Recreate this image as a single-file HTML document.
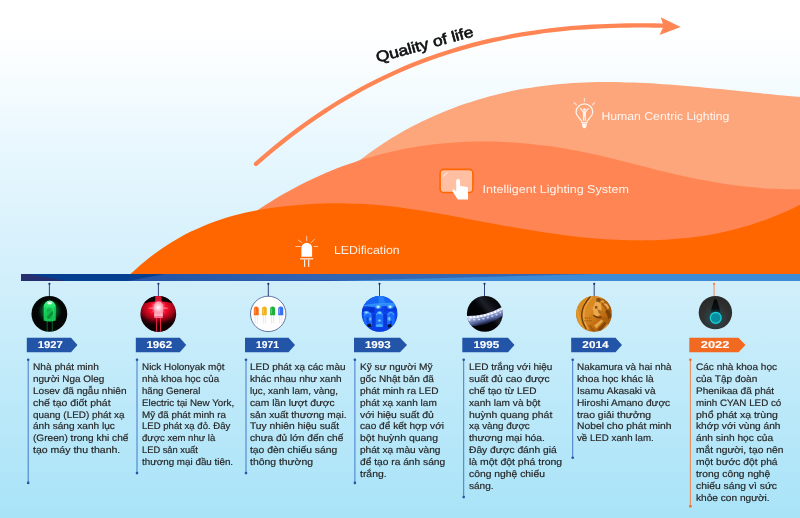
<!DOCTYPE html>
<html><head><meta charset="utf-8"><title>LED timeline</title>
<style>
html,body{margin:0;padding:0}
body{width:800px;height:518px;overflow:hidden;position:relative;font-family:"Liberation Sans",sans-serif;
background:linear-gradient(to bottom,#FFFFFF 0px,#FFFFFF 30px,#F6FCFE 80px,#E8F7FE 148px,#D1EFFB 280px,#A9E3F8 518px);}
svg{position:absolute;left:0;top:0;will-change:transform}
.tx{position:absolute;top:361.2px;will-change:transform;text-rendering:geometricPrecision;-webkit-text-stroke:0.18px #262626;font-size:9.4px;line-height:11.89px;color:#262626;white-space:nowrap}
.tx span{display:block;transform-origin:0 50%;height:11.89px}
</style></head><body>
<svg width="800" height="518" viewBox="0 0 800 518">
<path d="M345.00,171.87 C347.00,170.25 353.00,165.26 357.00,162.14 C361.00,159.02 365.00,156.03 369.00,153.16 C373.00,150.28 377.00,147.54 381.00,144.89 C385.00,142.25 389.00,139.72 393.00,137.30 C397.00,134.87 401.00,132.56 405.00,130.34 C409.00,128.12 413.00,126.01 417.00,123.98 C421.00,121.95 425.00,120.02 429.00,118.18 C433.00,116.33 437.00,114.58 441.00,112.91 C445.00,111.23 449.00,109.65 453.00,108.13 C457.00,106.62 461.00,105.18 465.00,103.82 C469.00,102.46 473.00,101.17 477.00,99.95 C481.00,98.74 485.00,97.59 489.00,96.51 C493.00,95.44 497.00,94.43 501.00,93.49 C505.00,92.54 509.00,91.67 513.00,90.85 C517.00,90.04 521.00,89.29 525.00,88.60 C529.00,87.91 533.00,87.28 537.00,86.71 C541.00,86.14 545.00,85.63 549.00,85.17 C553.00,84.71 557.00,84.31 561.00,83.96 C565.00,83.61 569.00,83.32 573.00,83.06 C577.00,82.81 581.00,82.61 585.00,82.45 C589.00,82.29 593.00,82.18 597.00,82.11 C601.00,82.04 605.00,82.01 609.00,82.01 C613.00,82.02 617.00,82.07 621.00,82.14 C625.00,82.22 629.00,82.34 633.00,82.48 C637.00,82.62 641.00,82.80 645.00,83.00 C649.00,83.20 653.00,83.43 657.00,83.68 C661.00,83.93 665.00,84.21 669.00,84.51 C673.00,84.80 677.00,85.12 681.00,85.45 C685.00,85.79 689.00,86.14 693.00,86.50 C697.00,86.86 701.00,87.24 705.00,87.63 C709.00,88.01 713.00,88.41 717.00,88.81 C721.00,89.21 725.00,89.62 729.00,90.04 C733.00,90.45 737.00,90.86 741.00,91.27 C745.00,91.69 749.00,92.10 753.00,92.51 C757.00,92.92 761.00,93.32 765.00,93.72 C769.00,94.11 773.00,94.50 777.00,94.88 C781.00,95.26 785.17,95.64 789.00,95.98 C792.83,96.31 798.17,96.75 800.00,96.91 L800.00,278 L345.00,278 Z" fill="#FDA67B"/>
<path d="M235.00,226.53 C237.00,225.05 243.00,220.48 247.00,217.60 C251.00,214.72 255.00,211.95 259.00,209.27 C263.00,206.58 267.00,204.00 271.00,201.51 C275.00,199.02 279.00,196.62 283.00,194.31 C287.00,192.00 291.00,189.79 295.00,187.66 C299.00,185.53 303.00,183.49 307.00,181.53 C311.00,179.57 315.00,177.70 319.00,175.90 C323.00,174.11 327.00,172.40 331.00,170.77 C335.00,169.13 339.00,167.58 343.00,166.10 C347.00,164.62 351.00,163.22 355.00,161.89 C359.00,160.55 363.00,159.30 367.00,158.11 C371.00,156.91 375.00,155.79 379.00,154.74 C383.00,153.68 387.00,152.70 391.00,151.78 C395.00,150.85 399.00,150.00 403.00,149.20 C407.00,148.41 411.00,147.68 415.00,147.01 C419.00,146.35 423.00,145.74 427.00,145.20 C431.00,144.66 435.00,144.18 439.00,143.75 C443.00,143.33 447.00,142.97 451.00,142.67 C455.00,142.36 459.00,142.12 463.00,141.93 C467.00,141.74 471.00,141.61 475.00,141.53 C479.00,141.46 483.00,141.44 487.00,141.47 C491.00,141.50 495.00,141.59 499.00,141.73 C503.00,141.87 507.00,142.07 511.00,142.31 C515.00,142.56 519.00,142.85 523.00,143.20 C527.00,143.55 531.00,143.94 535.00,144.39 C539.00,144.83 543.00,145.33 547.00,145.86 C551.00,146.40 555.00,146.99 559.00,147.62 C563.00,148.25 567.00,148.93 571.00,149.64 C575.00,150.36 579.00,151.13 583.00,151.93 C587.00,152.73 591.00,153.58 595.00,154.46 C599.00,155.35 603.00,156.28 607.00,157.23 C611.00,158.19 615.00,159.19 619.00,160.19 C623.00,161.20 627.00,162.23 631.00,163.26 C635.00,164.29 639.00,165.34 643.00,166.37 C647.00,167.40 651.00,168.43 655.00,169.43 C659.00,170.43 663.00,171.41 667.00,172.37 C671.00,173.32 675.00,174.24 679.00,175.13 C683.00,176.03 687.00,176.89 691.00,177.72 C695.00,178.54 699.00,179.33 703.00,180.09 C707.00,180.84 711.00,181.56 715.00,182.23 C719.00,182.91 723.00,183.54 727.00,184.13 C731.00,184.72 735.00,185.27 739.00,185.76 C743.00,186.26 747.00,186.71 751.00,187.11 C755.00,187.50 759.00,187.85 763.00,188.15 C767.00,188.44 771.00,188.68 775.00,188.86 C779.00,189.04 783.00,189.17 787.00,189.23 C791.00,189.30 796.83,189.24 799.00,189.24 C801.17,189.24 799.83,189.23 800.00,189.23 L800.00,278 L235.00,278 Z" fill="#FF8654"/>
<path d="M130.90,273.51 C132.90,271.75 138.90,266.26 142.90,262.93 C146.90,259.60 150.90,256.48 154.90,253.53 C158.90,250.58 162.90,247.83 166.90,245.23 C170.90,242.63 174.90,240.22 178.90,237.95 C182.90,235.68 186.90,233.58 190.90,231.62 C194.90,229.65 198.90,227.85 202.90,226.16 C206.90,224.47 210.90,222.93 214.90,221.50 C218.90,220.07 222.90,218.77 226.90,217.56 C230.90,216.36 234.90,215.27 238.90,214.27 C242.90,213.26 246.90,212.37 250.90,211.54 C254.90,210.72 258.90,209.99 262.90,209.32 C266.90,208.64 270.90,208.05 274.90,207.51 C278.90,206.96 282.90,206.48 286.90,206.04 C290.90,205.61 294.90,205.22 298.90,204.89 C302.90,204.56 306.90,204.28 310.90,204.05 C314.90,203.82 318.90,203.65 322.90,203.52 C326.90,203.40 330.90,203.32 334.90,203.30 C338.90,203.28 342.90,203.31 346.90,203.39 C350.90,203.47 354.90,203.61 358.90,203.79 C362.90,203.98 366.90,204.21 370.90,204.50 C374.90,204.79 378.90,205.13 382.90,205.52 C386.90,205.90 390.90,206.35 394.90,206.83 C398.90,207.31 402.90,207.84 406.90,208.40 C410.90,208.95 414.90,209.56 418.90,210.18 C422.90,210.81 426.90,211.47 430.90,212.15 C434.90,212.82 438.90,213.53 442.90,214.25 C446.90,214.97 450.90,215.71 454.90,216.45 C458.90,217.19 462.90,217.95 466.90,218.71 C470.90,219.46 474.90,220.22 478.90,220.98 C482.90,221.73 486.90,222.49 490.90,223.23 C494.90,223.98 498.90,224.71 502.90,225.44 C506.90,226.16 510.90,226.88 514.90,227.58 C518.90,228.27 522.90,228.96 526.90,229.62 C530.90,230.28 534.90,230.93 538.90,231.55 C542.90,232.18 546.90,232.78 550.90,233.35 C554.90,233.92 558.90,234.47 562.90,234.99 C566.90,235.51 570.90,236.00 574.90,236.45 C578.90,236.90 582.90,237.33 586.90,237.71 C590.90,238.09 594.90,238.44 598.90,238.74 C602.90,239.05 606.90,239.32 610.90,239.54 C614.90,239.77 618.90,239.95 622.90,240.09 C626.90,240.22 630.90,240.31 634.90,240.35 C638.90,240.39 642.90,240.39 646.90,240.33 C650.90,240.27 654.90,240.16 658.90,239.99 C662.90,239.82 666.90,239.60 670.90,239.32 C674.90,239.04 678.90,238.71 682.90,238.31 C686.90,237.91 690.90,237.45 694.90,236.92 C698.90,236.39 702.90,235.80 706.90,235.14 C710.90,234.47 714.90,233.74 718.90,232.93 C722.90,232.11 726.90,231.23 730.90,230.26 C734.90,229.30 738.90,228.25 742.90,227.12 C746.90,225.99 750.90,224.78 754.90,223.47 C758.90,222.17 762.90,220.78 766.90,219.29 C770.90,217.81 774.90,216.23 778.90,214.55 C782.90,212.88 787.38,210.86 790.90,209.23 C794.42,207.60 798.48,205.52 800.00,204.78 L800.00,278 L130.90,278 Z" fill="#FF6600"/>
<path d="M256.00,163.83 C258.33,161.82 265.33,155.69 270.00,151.79 C274.67,147.90 279.33,144.12 284.00,140.45 C288.67,136.77 293.33,133.22 298.00,129.76 C302.67,126.31 307.33,122.97 312.00,119.73 C316.67,116.49 321.33,113.36 326.00,110.33 C330.67,107.29 335.33,104.37 340.00,101.53 C344.67,98.70 349.33,95.97 354.00,93.33 C358.67,90.70 363.33,88.16 368.00,85.71 C372.67,83.26 377.33,80.91 382.00,78.64 C386.67,76.37 391.33,74.20 396.00,72.11 C400.67,70.02 405.33,68.01 410.00,66.09 C414.67,64.17 419.33,62.34 424.00,60.58 C428.67,58.82 433.33,57.15 438.00,55.55 C442.67,53.95 447.33,52.43 452.00,50.98 C456.67,49.54 461.33,48.17 466.00,46.86 C470.67,45.56 475.33,44.33 480.00,43.17 C484.67,42.01 489.33,40.91 494.00,39.88 C498.67,38.85 503.33,37.89 508.00,36.99 C512.67,36.08 517.33,35.25 522.00,34.46 C526.67,33.68 531.33,32.96 536.00,32.29 C540.67,31.63 545.33,31.02 550.00,30.46 C554.67,29.90 559.33,29.39 564.00,28.94 C568.67,28.48 573.33,28.08 578.00,27.72 C582.67,27.36 587.33,27.04 592.00,26.77 C596.67,26.50 601.33,26.28 606.00,26.09 C610.67,25.91 615.33,25.76 620.00,25.66 C624.67,25.55 629.33,25.48 634.00,25.44 C638.67,25.40 643.33,25.41 648.00,25.43 C652.67,25.46 659.33,25.58 662.00,25.61 C664.67,25.65 663.67,25.65 664.00,25.65" fill="none" stroke="#FF8654" stroke-width="4.3" stroke-linecap="round"/>
<path d="M680.7,27.1 L660.8,17.3 L663.6,26 L659.6,34.9 Z" fill="#FF8654"/>
<rect x="21" y="274" width="779" height="7" fill="#04408F"/>
<path d="M21,274 L29,274 L67,281 L21,281 Z" fill="#252F70"/>
<defs><linearGradient id="barg" x1="140" y1="0" x2="360" y2="0" gradientUnits="userSpaceOnUse"><stop offset="0" stop-color="#2254A7"/><stop offset="1" stop-color="#3467B3"/></linearGradient></defs>
<path d="M128,281 L165,274 L800,274 L800,281 Z" fill="url(#barg)"/>
<path d="M200,281 L360,281 L360,280.2 Z" fill="#2450A8"/>
<path d="M330,281 L595,274 L800,274 L800,281 Z" fill="#3C8BD4"/>
<line x1="49.40" y1="284" x2="49.40" y2="297" stroke="#1F2E6B" stroke-width="0.9"/>
<circle cx="49.40" cy="283.8" r="1.1" fill="#1F2E6B"/>
<path d="M26.80,337.75 L71.00,337.75 L77.50,345.05 L71.00,352.35 L26.80,352.35 Z" fill="#2255A8"/>
<line x1="28.20" y1="359.8" x2="28.20" y2="482.90" stroke="#356EC2" stroke-width="0.9"/>
<circle cx="28.20" cy="359.8" r="1.3" fill="#2255A8"/>
<circle cx="28.20" cy="482.90" r="1.3" fill="#2255A8"/>
<text transform="translate(37.75,348.05) scale(1.1255,1.0)" text-rendering="geometricPrecision" font-family="Liberation Sans" font-weight="bold" font-size="10" fill="#fff" stroke="#fff" stroke-width=".12">1927</text>
<line x1="158.40" y1="284" x2="158.40" y2="297" stroke="#1F2E6B" stroke-width="0.9"/>
<circle cx="158.40" cy="283.8" r="1.1" fill="#1F2E6B"/>
<path d="M135.80,337.75 L179.80,337.75 L186.20,345.05 L179.80,352.35 L135.80,352.35 Z" fill="#2255A8"/>
<line x1="137.00" y1="359.8" x2="137.00" y2="473.10" stroke="#356EC2" stroke-width="0.9"/>
<circle cx="137.00" cy="359.8" r="1.3" fill="#2255A8"/>
<circle cx="137.00" cy="473.10" r="1.3" fill="#2255A8"/>
<text transform="translate(146.40,348.05) scale(1.1539,1.0)" text-rendering="geometricPrecision" font-family="Liberation Sans" font-weight="bold" font-size="10" fill="#fff" stroke="#fff" stroke-width=".12">1962</text>
<line x1="268.30" y1="284" x2="268.30" y2="297" stroke="#1F2E6B" stroke-width="0.9"/>
<circle cx="268.30" cy="283.8" r="1.1" fill="#1F2E6B"/>
<path d="M245.00,337.75 L288.50,337.75 L295.00,345.05 L288.50,352.35 L245.00,352.35 Z" fill="#2255A8"/>
<line x1="246.00" y1="359.8" x2="246.00" y2="473.10" stroke="#356EC2" stroke-width="0.9"/>
<circle cx="246.00" cy="359.8" r="1.3" fill="#2255A8"/>
<circle cx="246.00" cy="473.10" r="1.3" fill="#2255A8"/>
<text transform="translate(256.10,348.05) scale(1.0265,1.0)" text-rendering="geometricPrecision" font-family="Liberation Sans" font-weight="bold" font-size="10" fill="#fff" stroke="#fff" stroke-width=".12">1971</text>
<line x1="379.50" y1="284" x2="379.50" y2="297" stroke="#1F2E6B" stroke-width="0.9"/>
<circle cx="379.50" cy="283.8" r="1.1" fill="#1F2E6B"/>
<path d="M354.00,337.75 L400.00,337.75 L407.00,345.05 L400.00,352.35 L354.00,352.35 Z" fill="#2255A8"/>
<line x1="354.90" y1="359.8" x2="354.90" y2="482.90" stroke="#356EC2" stroke-width="0.9"/>
<circle cx="354.90" cy="359.8" r="1.3" fill="#2255A8"/>
<circle cx="354.90" cy="482.90" r="1.3" fill="#2255A8"/>
<text transform="translate(364.90,348.05) scale(1.1574,1.0)" text-rendering="geometricPrecision" font-family="Liberation Sans" font-weight="bold" font-size="10" fill="#fff" stroke="#fff" stroke-width=".12">1993</text>
<line x1="484.50" y1="284" x2="484.50" y2="297" stroke="#1F2E6B" stroke-width="0.9"/>
<circle cx="484.50" cy="283.8" r="1.1" fill="#1F2E6B"/>
<path d="M462.30,337.75 L508.00,337.75 L514.50,345.05 L508.00,352.35 L462.30,352.35 Z" fill="#2255A8"/>
<line x1="463.70" y1="359.8" x2="463.70" y2="497.10" stroke="#356EC2" stroke-width="0.9"/>
<circle cx="463.70" cy="359.8" r="1.3" fill="#2255A8"/>
<circle cx="463.70" cy="497.10" r="1.3" fill="#2255A8"/>
<text transform="translate(473.40,348.05) scale(1.1574,1.0)" text-rendering="geometricPrecision" font-family="Liberation Sans" font-weight="bold" font-size="10" fill="#fff" stroke="#fff" stroke-width=".12">1995</text>
<line x1="594.20" y1="284" x2="594.20" y2="297" stroke="#1F2E6B" stroke-width="0.9"/>
<circle cx="594.20" cy="283.8" r="1.1" fill="#1F2E6B"/>
<path d="M571.20,337.75 L615.50,337.75 L622.00,345.05 L615.50,352.35 L571.20,352.35 Z" fill="#2255A8"/>
<line x1="572.70" y1="359.8" x2="572.70" y2="457.70" stroke="#356EC2" stroke-width="0.9"/>
<circle cx="572.70" cy="359.8" r="1.3" fill="#2255A8"/>
<circle cx="572.70" cy="457.70" r="1.3" fill="#2255A8"/>
<text transform="translate(582.35,348.05) scale(1.1756,1.0)" text-rendering="geometricPrecision" font-family="Liberation Sans" font-weight="bold" font-size="10" fill="#fff" stroke="#fff" stroke-width=".12">2014</text>
<line x1="714.10" y1="284" x2="714.10" y2="297" stroke="#F47F45" stroke-width="0.9"/>
<circle cx="714.10" cy="283.8" r="1.1" fill="#F47F45"/>
<path d="M689.30,337.75 L738.50,337.75 L745.50,345.05 L738.50,352.35 L689.30,352.35 Z" fill="#F26A21"/>
<line x1="690.40" y1="359.8" x2="690.40" y2="506.30" stroke="#F47B3A" stroke-width="0.9"/>
<circle cx="690.40" cy="359.8" r="1.3" fill="#F26A21"/>
<circle cx="690.40" cy="506.30" r="1.3" fill="#F26A21"/>
<text transform="translate(700.75,348.05) scale(1.2892,1.0)" text-rendering="geometricPrecision" font-family="Liberation Sans" font-weight="bold" font-size="10" fill="#fff" stroke="#fff" stroke-width=".12">2022</text>
<text transform="translate(377.4,62.6) rotate(-15.3)" text-rendering="geometricPrecision" font-family="Liberation Sans" font-size="15" textLength="100.5" lengthAdjust="spacingAndGlyphs" fill="#111" stroke="#111" stroke-width="0.62" stroke-linejoin="round">Quality of life</text>
<text x="334.00" y="254.00" text-rendering="geometricPrecision" font-family="Liberation Sans" font-size="11.70" textLength="65.60" lengthAdjust="spacingAndGlyphs" fill="#fff" fill-opacity=".9">LEDification</text>
<text x="482.60" y="193.10" text-rendering="geometricPrecision" font-family="Liberation Sans" font-size="11.30" textLength="146.30" lengthAdjust="spacingAndGlyphs" fill="#fff" fill-opacity=".9">Intelligent Lighting System</text>
<text x="601.40" y="120.20" text-rendering="geometricPrecision" font-family="Liberation Sans" font-size="11.30" textLength="128.00" lengthAdjust="spacingAndGlyphs" fill="#fff" fill-opacity=".9">Human Centric Lighting</text>
<defs>
  <clipPath id="c1"><circle cx="49.35" cy="313.9" r="17.9"/></clipPath>
  <clipPath id="c2"><circle cx="158.3" cy="313.9" r="17.9"/></clipPath>
  <clipPath id="c3"><circle cx="268.2" cy="313.9" r="17.9"/></clipPath>
  <clipPath id="c4"><circle cx="379.6" cy="313.9" r="17.9"/></clipPath>
  <clipPath id="c5"><circle cx="484.8" cy="313.9" r="17.9"/></clipPath>
  <clipPath id="c6"><circle cx="594" cy="313.9" r="17.9"/></clipPath>
  <clipPath id="c7"><circle cx="715.4" cy="312.6" r="16.7"/></clipPath>
  <radialGradient id="g1glow" cx="49.7" cy="311" r="13" gradientUnits="userSpaceOnUse">
    <stop offset="0" stop-color="#16b650" stop-opacity=".95"/><stop offset=".6" stop-color="#0b5c2a" stop-opacity=".75"/><stop offset="1" stop-color="#03200f" stop-opacity="0"/>
  </radialGradient>
  <linearGradient id="g1body" x1="0" y1="300" x2="0" y2="321" gradientUnits="userSpaceOnUse">
    <stop offset="0" stop-color="#9affc4"/><stop offset=".18" stop-color="#2eec76"/><stop offset=".6" stop-color="#1adc5e"/><stop offset="1" stop-color="#14c452"/>
  </linearGradient>
  <radialGradient id="g2bg" cx="158.3" cy="308.6" r="17" gradientUnits="userSpaceOnUse" gradientTransform="translate(158.3 0) scale(1.45 1) translate(-158.3 0)">
    <stop offset="0" stop-color="#ff2040"/><stop offset=".36" stop-color="#f20a28"/><stop offset=".62" stop-color="#a20418"/><stop offset=".85" stop-color="#38000a"/><stop offset="1" stop-color="#100002"/>
  </radialGradient>
  <radialGradient id="g2glow" cx="158.3" cy="307.5" r="8" gradientUnits="userSpaceOnUse">
    <stop offset="0" stop-color="#fff" stop-opacity="1"/><stop offset=".45" stop-color="#ffb3c4" stop-opacity=".9"/><stop offset="1" stop-color="#ff3050" stop-opacity="0"/>
  </radialGradient>
  <linearGradient id="g4bg" x1="0" y1="296" x2="0" y2="332" gradientUnits="userSpaceOnUse">
    <stop offset="0" stop-color="#1668ff"/><stop offset=".3" stop-color="#1a72ff"/><stop offset=".48" stop-color="#0a4ef2"/><stop offset="1" stop-color="#083ad8"/>
  </linearGradient>
  <radialGradient id="g4hl" cx=".5" cy=".5" r=".5"><stop offset="0" stop-color="#bfeaff"/><stop offset=".5" stop-color="#5cc0ff" stop-opacity=".8"/><stop offset="1" stop-color="#2a90ff" stop-opacity="0"/></radialGradient>
  <linearGradient id="g5sheen" x1="470" y1="322" x2="498" y2="298" gradientUnits="userSpaceOnUse">
    <stop offset="0" stop-color="#000"/><stop offset=".45" stop-color="#040508"/><stop offset=".62" stop-color="#1d2028"/><stop offset=".8" stop-color="#0a0b10"/><stop offset="1" stop-color="#020203"/>
  </linearGradient>
  <linearGradient id="g5glow" x1="482" y1="314" x2="486" y2="327" gradientUnits="userSpaceOnUse">
    <stop offset="0" stop-color="#d4deff" stop-opacity=".98"/><stop offset=".5" stop-color="#8098ee" stop-opacity=".65"/><stop offset="1" stop-color="#1a2a80" stop-opacity="0"/>
  </linearGradient>
  <linearGradient id="g6bg" x1="578" y1="300" x2="612" y2="330" gradientUnits="userSpaceOnUse">
    <stop offset="0" stop-color="#d07c16"/><stop offset=".35" stop-color="#dc8c26"/><stop offset=".65" stop-color="#bf6c10"/><stop offset="1" stop-color="#9c5208"/>
  </linearGradient>
  <radialGradient id="g7bg" cx="715.4" cy="318" r="20" gradientUnits="userSpaceOnUse">
    <stop offset="0" stop-color="#1f5a64"/><stop offset=".33" stop-color="#2c4145"/><stop offset=".65" stop-color="#303031"/><stop offset="1" stop-color="#2a2a2b"/>
  </radialGradient>
  <linearGradient id="g7sock" x1="0" y1="299" x2="0" y2="313" gradientUnits="userSpaceOnUse">
    <stop offset="0" stop-color="#050505"/><stop offset=".7" stop-color="#0a1214"/><stop offset="1" stop-color="#0c4650"/>
  </linearGradient>
</defs>

<!-- LEDification icon -->
<g fill="#fff">
  <path d="M301.4,256.8 V248 a5.35,5.35 0 0 1 10.7,0 V256.8 Z"/>
  <rect x="300.1" y="258" width="13.1" height="1.6" opacity=".7"/>
  <rect x="304" y="259.6" width="1.2" height="7.3" opacity=".9"/>
  <rect x="308.1" y="259.6" width="1.2" height="7.3" opacity=".9"/>
</g>
<g stroke="#fff" stroke-width="1" opacity=".62">
  <line x1="306.7" y1="236.1" x2="306.7" y2="241"/>
  <line x1="298" y1="239.9" x2="302.2" y2="242.8"/>
  <line x1="314.7" y1="238.9" x2="310.9" y2="243"/>
  <line x1="295.3" y1="246.5" x2="300.9" y2="246.5"/>
  <line x1="313.5" y1="246.5" x2="318" y2="246.5"/>
</g>

<!-- touch screen icon -->
<rect x="440.1" y="169.4" width="32.8" height="23.1" rx="3.6" fill="#FFBFA3" stroke="#FF6600" stroke-width="1.6"/>
<line x1="442.7" y1="177" x2="447.5" y2="172.4" stroke="#fff" stroke-width="0.8"/>
<path d="M456.2,181 A1.9,1.9 0 0 1 460,181 V186 Q461.3,185.6 462.6,186.4 Q463.9,186 465.2,186.8 Q466.6,186.6 468,187.6 V199.5 H457.8 L452.6,191.6 Q452.2,189.6 453.8,189.2 L456.2,191.5 Z" fill="#fff"/>

<!-- human centric bulb icon -->
<g fill="none" stroke="#FFF3EC" stroke-width="1.25">
  <path d="M582,122.6 C582,118.8 576.05,117.4 576.05,112.3 A8.35,8.5 0 0 1 592.75,112.3 C592.75,117.4 586.8,118.8 586.8,122.6 Z"/>
  <line x1="584.4" y1="98.1" x2="584.4" y2="101.7" opacity=".8"/>
  <line x1="573.9" y1="102.4" x2="576.6" y2="105" opacity=".8"/>
  <line x1="594.8" y1="102.4" x2="592.2" y2="105" opacity=".8"/>
  <line x1="583.6" y1="112.4" x2="580.3" y2="108" />
  <line x1="585.2" y1="112.4" x2="588.5" y2="108" />
</g>
<g fill="#FFF6F0">
  <path d="M581.8,123.5 H587 L586.3,127 Q584.4,129.6 582.5,127 Z"/>
  <circle cx="584.4" cy="109.5" r="1.35"/>
  <rect x="582.9" y="111.3" width="3" height="5.4"/>
  <rect x="582.9" y="116.5" width="1.25" height="4.4"/>
  <rect x="584.65" y="116.5" width="1.25" height="4.4"/>
</g>

<!-- 1927 green LED -->
<g clip-path="url(#c1)">
  <rect x="30" y="295" width="40" height="40" fill="#030604"/>
  <circle cx="49.7" cy="311.5" r="12" fill="url(#g1glow)"/>
  <rect x="46.7" y="320" width=".8" height="12" fill="#12863a" opacity=".9"/>
  <rect x="51.8" y="320" width=".8" height="12" fill="#12863a" opacity=".9"/>
  <path d="M43.7,320.4 V306.8 a6,6.2 0 0 1 12,0 V320.4 Q49.7,322.6 43.7,320.4 Z" fill="url(#g1body)"/>
  <ellipse cx="49.7" cy="303.2" rx="2.3" ry="1.3" fill="#f2fff6" opacity=".95"/>
  <rect x="46.6" y="307.5" width="6.2" height="11.5" rx="2" fill="#0b8c3a" opacity=".38"/>
  <path d="M46.8,317.6 L52.2,310.8 L53.2,313.4 L48.8,318.8 Z" fill="#0a7a32" opacity=".7"/>
  <path d="M46.5,310 L50,308.5 L50.5,310.5 L47,312 Z" fill="#0f9a40" opacity=".5"/>
  <rect x="44.6" y="307" width="1.1" height="11" fill="#0fae48" opacity=".55"/>
  <rect x="53.7" y="307" width="1.1" height="11" fill="#0fae48" opacity=".55"/>
</g>

<!-- 1962 red LED -->
<g clip-path="url(#c2)">
  <rect x="139" y="295" width="40" height="40" fill="url(#g2bg)"/>
  <path d="M139,295 H179 V305 Q158.3,297.5 139,305 Z" fill="#080001"/>
  <path d="M139,334 H179 V326 Q158.3,334 139,326 Z" fill="#120003" opacity=".75"/>
  <rect x="155.2" y="295" width="6.4" height="8" fill="#f01a38" opacity=".9"/>
  <rect x="156.2" y="317" width=".9" height="15" fill="#ff2a48"/>
  <rect x="160" y="317" width=".9" height="15" fill="#ff2a48"/>
  <ellipse cx="158.3" cy="308.2" rx="10" ry="1.3" fill="#ff9fb2" opacity=".6"/>
  <path d="M151.5,303.5 L165,312.5 M165,303.5 L151.5,312.5" stroke="#ff8098" stroke-width=".7" opacity=".55"/>
  <path d="M154.2,316.6 V305.8 a4.3,4.3 0 0 1 8.6,0 V316.6 Q158.5,318.4 154.2,316.6 Z" fill="#ffc0cf"/>
  <circle cx="158.3" cy="307.5" r="8" fill="url(#g2glow)"/>
  <ellipse cx="158.5" cy="316.9" rx="4.6" ry="1.2" fill="#ff6f8c"/>
</g>

<!-- 1971 four LEDs -->
<circle cx="268.2" cy="313.9" r="17.7" fill="#fff" stroke="#2b3f80" stroke-width=".7"/>
<g>
  <g stroke="#d9d9de" stroke-width=".6">
    <line x1="255.2" y1="315" x2="255.2" y2="323.5"/><line x1="257.3" y1="315" x2="257.3" y2="323.5"/>
    <line x1="263.3" y1="315" x2="263.3" y2="323.5"/><line x1="265.4" y1="315" x2="265.4" y2="323.5"/>
    <line x1="271.5" y1="315" x2="271.5" y2="323.5"/><line x1="273.6" y1="315" x2="273.6" y2="323.5"/>
    <line x1="279.7" y1="315" x2="279.7" y2="323.5"/><line x1="281.8" y1="315" x2="281.8" y2="323.5"/>
  </g>
  <path d="M253.8,315.2 V309 a2.45,2.6 0 0 1 4.9,0 V315.2 Z" fill="#ff6a10"/>
  <path d="M261.9,315.2 V309 a2.45,2.6 0 0 1 4.9,0 V315.2 Z" fill="#f2b21e"/>
  <path d="M270.1,315.2 V309 a2.5,2.6 0 0 1 5,0 V315.2 Z" fill="#1eb03c"/>
  <path d="M278.2,315.2 V309 a2.55,2.6 0 0 1 5.1,0 V315.2 Z" fill="#3a70f2"/>
  <g fill="#fff" opacity=".35">
    <rect x="254.6" y="308.5" width="1" height="5"/><rect x="262.7" y="308.5" width="1" height="5"/><rect x="270.9" y="308.5" width="1" height="5"/><rect x="279" y="308.5" width="1" height="5"/>
  </g>
</g>

<!-- 1993 blue LEDs -->
<g clip-path="url(#c4)">
  <rect x="360" y="295" width="40" height="40" fill="#0a44ea"/>
  <path d="M360,295 H400 V306 Q380,302 360,308 Z" fill="#1464f6"/>
  <path d="M362,305.5 Q380,301.5 398,303.5 L398,306.5 Q380,304.5 362,309 Z" fill="#3a9cff" opacity=".75"/>
  <path d="M378,295 L383,295 L385.5,304 L379,305 Z" fill="#3a9cff" opacity=".45"/>
  <path d="M361,307 Q368,305 375,308 L374,313 Q367,310 361,313 Z" fill="#0430cc" opacity=".8"/>
  <path d="M384,307 Q390,305 397,308 L397,312 Q390,309.5 384.5,312 Z" fill="#0636d4" opacity=".6"/>
  <g fill="#1e72ff" opacity=".85">
    <path d="M363.5,325.4 V316.2 a4.25,4.4 0 0 1 8.5,0 V325.4 Z"/>
    <path d="M375.6,327 V315.6 a3.85,4.4 0 0 1 7.7,0 V327 Z"/>
    <path d="M387,325.6 V315.6 a3.85,4.4 0 0 1 7.7,0 V325.6 Z"/>
  </g>
  <g fill="#0a36d0" opacity=".7">
    <rect x="372.3" y="314" width="3" height="13"/><rect x="383.6" y="314" width="3.2" height="13"/>
    <rect x="366.5" y="317" width="2.2" height="6"/><rect x="390" y="321" width="2" height="3.5"/>
  </g>
  <g fill="none" stroke="#58b6ff" stroke-width="1" opacity=".9" stroke-linecap="round">
    <path d="M364.3,315.2 a3.6,3.6 0 0 1 6.6,-.6"/>
    <path d="M376.5,314.6 a3.2,3.4 0 0 1 5.9,0"/>
    <path d="M387.9,314.6 a3.2,3.4 0 0 1 5.9,0"/>
  </g>
  <ellipse cx="378.2" cy="306.9" rx="4.2" ry="2.8" fill="url(#g4hl)"/>
  <ellipse cx="390.2" cy="306.8" rx="4.2" ry="2.8" fill="url(#g4hl)"/>
  <circle cx="378.2" cy="306.9" r=".9" fill="#f0fbff"/><circle cx="390.2" cy="306.8" r=".9" fill="#f0fbff"/>
  <ellipse cx="366.3" cy="312.4" rx="3.6" ry="2.2" fill="url(#g4hl)" opacity=".95"/>
  <ellipse cx="379.6" cy="312.8" rx="3.2" ry="2.2" fill="url(#g4hl)" opacity=".9"/>
  <ellipse cx="389.2" cy="318.8" rx="2.2" ry="3.2" fill="url(#g4hl)" opacity=".9"/>
  <ellipse cx="370.2" cy="319" rx="2" ry="3" fill="url(#g4hl)" opacity=".7"/>
  <ellipse cx="379.4" cy="320.6" rx="2.6" ry="2" fill="url(#g4hl)" opacity=".85"/>
  <ellipse cx="379.3" cy="325.5" rx="3.6" ry="1.5" fill="#44aeff" opacity=".95"/>
  <path d="M367,324 l3.6,-.4 l.8,3.6 l-3.4,-.4 Z M387.4,324.4 l3.8,-.4 l.4,3.2 l-3.6,.2 Z" fill="#010618" opacity=".85"/>
  <path d="M360,328.5 Q380,326.5 400,328.5 V335 H360 Z" fill="#0a3ede" opacity=".7"/>
</g>

<!-- 1995 LED strip -->
<g clip-path="url(#c5)">
  <rect x="466" y="295" width="40" height="40" fill="url(#g5sheen)"/>
  <path d="M466,317.2 Q487,317.4 503.5,307.5 V315 Q488,327 466,326 Z" fill="url(#g5glow)"/>
  <path d="M466,317.3 Q487,317.5 503.5,307.6" fill="none" stroke="#c9d3f4" stroke-width="2.5" opacity=".95"/>
  <path d="M466,317.3 Q487,317.5 503.5,307.6" fill="none" stroke="#fff" stroke-width="2" stroke-dasharray="1.9 1.7"/>
  <path d="M468.5,319.9 Q487,320 501,312.4" fill="none" stroke="#e6ecff" stroke-width="1.5" stroke-dasharray="2 2.6" opacity=".8"/>
</g>

<!-- 2014 Nobel medal -->
<g clip-path="url(#c6)">
  <rect x="575" y="295" width="40" height="40" fill="url(#g6bg)"/>
  <path d="M575,295 H591 Q581,306 581.4,315 Q581.7,323.5 587,330 L588,335 H575 Z" fill="#d98c22"/>
  <path d="M576,303 Q577.5,314 581,325" stroke="#e9a43e" stroke-width="1.6" fill="none" opacity=".7"/>
  <path d="M590.6,296.4 Q581.6,306 581.7,315 Q581.9,323 586.5,328.9" fill="none" stroke="#5e3206" stroke-width="1.25" opacity=".92"/>
  <path d="M592.4,297 Q583.6,306.5 583.7,315 Q583.9,322.5 588.4,329.6" fill="none" stroke="#eca646" stroke-width="1.5" opacity=".85"/>
  <!-- face -->
  <path d="M596.1,300.3 L592.5,309.2 L593.7,311.7 L593.3,314.1 L596.5,316.7 L600.8,314.3 L601.6,307.6 L599.8,301.1 Z" fill="#f0ae52" opacity=".9"/>
  <path d="M596.5,298.4 Q599,297.4 601,299 L600,303 Q598,301 596,302 Z" fill="#6a3806" opacity=".75"/>
  <path d="M594.8,306.2 L597.2,305.8 L597.6,308.6 L595.2,308.8 Z" fill="#6a3806" opacity=".8"/>
  <path d="M597.5,309.5 Q600,309 601.2,311.5 L600.6,314.8 Q598.2,313.5 597.5,309.5 Z" fill="#8a4c0a" opacity=".65"/>
  <path d="M593.6,314.6 Q597,317.6 601.6,316.2 L602,317.8 Q597,319.6 593.2,316 Z" fill="#5e3206" opacity=".8"/>
  <!-- hair / back of head -->
  <path d="M600.6,299 Q605,297.5 609,301.5 Q612,306 611.5,312 L607.5,314 Q606,308 602,305.5 Z" fill="#9a560c" opacity=".8"/>
  <path d="M604.4,303 Q607.5,303.6 608.9,307.2 Q609,309.2 607.6,309.6 Q606.6,306 604,304.8 Z" fill="#f2b25a" opacity=".9"/>
  <path d="M601.2,300.4 Q603.4,300 604.6,301.6 L603.2,303.4 Q602,302 600.8,302.4 Z" fill="#efac4c" opacity=".8"/>
  <path d="M606.8,309.5 Q611,311 611.4,317 L608,319.5 Q607.5,314 605.2,312 Z" fill="#6e3c08" opacity=".8"/>
  <!-- neck and shoulder -->
  <path d="M594,325.6 L601.5,319.6 L603.2,321 L596.4,328.4 Z" fill="#f0ae52" opacity=".85"/>
  <path d="M597.4,329.6 L604.6,321.8 L606.4,323.2 L600.4,331.4 Z" fill="#6e3c08" opacity=".7"/>
  <path d="M601,331.6 L607.2,324 L609,325.4 L604,332 Z" fill="#eeaa4a" opacity=".8"/>
  <path d="M602,317.6 Q606,317 609.6,319.6 L608.4,322 Q605.4,320 602.4,320.2 Z" fill="#a25c0e" opacity=".7"/>
  <path d="M590.5,324.5 Q592,328.5 596,331.5 L594,333 Q590,329.5 589,325.5 Z" fill="#8a4c0a" opacity=".55"/>
  <!-- inscription -->
  <path d="M584.6,318 h6.8 M584.2,320.8 h7.8" stroke="#7a450b" stroke-width=".9" opacity=".7" stroke-dasharray="1.4 .7"/>
</g>

<!-- 2022 cyan bulb -->
<g clip-path="url(#c7)">
  <rect x="697" y="294" width="40" height="40" fill="url(#g7bg)"/>
  <path d="M714.1,299.4 q1.4,-.5 2.8,0 l1.3,4.8 q1.8,3.6 2,8.2 h-9.4 q.2,-4.6 2,-8.2 Z" fill="url(#g7sock)"/>
  <circle cx="715.7" cy="317.9" r="5.4" fill="#0a8d9f" stroke="#16d0d8" stroke-width="1.3"/>
</g>

</svg>
<div class="tx" style="left:33.25px"><span style="transform:scaleX(1.0806)">Nhà phát minh</span><span style="transform:scaleX(1.0617)">người Nga Oleg</span><span style="transform:scaleX(1.0739)">Losev đã ngẫu nhiên</span><span style="transform:scaleX(1.1193)">chế tạo điốt phát</span><span style="transform:scaleX(1.0576)">quang (LED) phát xạ</span><span style="transform:scaleX(1.0761)">ánh sáng xanh lục</span><span style="transform:scaleX(1.0768)">(Green) trong khi chế</span><span style="transform:scaleX(1.1242)">tạo máy thu thanh.</span></div>
<div class="tx" style="left:142.05px"><span style="transform:scaleX(1.0556)">Nick Holonyak một</span><span style="transform:scaleX(1.0415)">nhà khoa học của</span><span style="transform:scaleX(1.0259)">hãng General</span><span style="transform:scaleX(1.0470)">Electric tại New York,</span><span style="transform:scaleX(1.0467)">Mỹ đã phát minh ra</span><span style="transform:scaleX(1.0206)">LED phát xạ đỏ. Đây</span><span style="transform:scaleX(1.0187)">được xem như là</span><span style="transform:scaleX(0.9930)">LED sản xuất</span><span style="transform:scaleX(1.0477)">thương mại đầu tiên.</span></div>
<div class="tx" style="left:250.10px"><span style="transform:scaleX(1.0654)">LED phát xạ các màu</span><span style="transform:scaleX(1.0711)">khác nhau như xanh</span><span style="transform:scaleX(1.0541)">lục, xanh lam, vàng,</span><span style="transform:scaleX(1.0931)">cam lần lượt được</span><span style="transform:scaleX(1.0839)">sản xuất thương mại.</span><span style="transform:scaleX(1.0922)">Tuy nhiên hiệu suất</span><span style="transform:scaleX(1.0792)">chưa đủ lớn đến chế</span><span style="transform:scaleX(1.1005)">tạo đèn chiếu sáng</span><span style="transform:scaleX(1.1101)">thông thường</span></div>
<div class="tx" style="left:360.05px"><span style="transform:scaleX(1.0796)">Kỹ sư người Mỹ</span><span style="transform:scaleX(1.0739)">gốc Nhật bản đã</span><span style="transform:scaleX(1.0758)">phát minh ra LED</span><span style="transform:scaleX(1.0755)">phát xạ xanh lam</span><span style="transform:scaleX(1.1095)">với hiệu suất đủ</span><span style="transform:scaleX(1.0774)">cao để kết hợp với</span><span style="transform:scaleX(1.1165)">bột huỳnh quang</span><span style="transform:scaleX(1.0787)">phát xạ màu vàng</span><span style="transform:scaleX(1.0897)">để tạo ra ánh sáng</span><span style="transform:scaleX(1.1091)">trắng.</span></div>
<div class="tx" style="left:468.90px"><span style="transform:scaleX(1.0671)">LED trắng với hiệu</span><span style="transform:scaleX(1.0994)">suất đủ cao được</span><span style="transform:scaleX(1.0683)">chế tạo từ LED</span><span style="transform:scaleX(1.0788)">xanh lam và bột</span><span style="transform:scaleX(1.1095)">huỳnh quang phát</span><span style="transform:scaleX(1.0525)">xạ vàng được</span><span style="transform:scaleX(1.0963)">thương mại hóa.</span><span style="transform:scaleX(1.0949)">Đây được đánh giá</span><span style="transform:scaleX(1.1164)">là một đột phá trong</span><span style="transform:scaleX(1.1030)">công nghệ chiếu</span><span style="transform:scaleX(1.0725)">sáng.</span></div>
<div class="tx" style="left:577.45px"><span style="transform:scaleX(1.0603)">Nakamura và hai nhà</span><span style="transform:scaleX(1.0901)">khoa học khác là</span><span style="transform:scaleX(1.0760)">Isamu Akasaki và</span><span style="transform:scaleX(1.0849)">Hiroshi Amano được</span><span style="transform:scaleX(1.1119)">trao giải thưởng</span><span style="transform:scaleX(1.0988)">Nobel cho phát minh</span><span style="transform:scaleX(1.0365)">về LED xanh lam.</span></div>
<div class="tx" style="left:696.10px"><span style="transform:scaleX(1.0717)">Các nhà khoa học</span><span style="transform:scaleX(1.0722)">của Tập đoàn</span><span style="transform:scaleX(1.0701)">Phenikaa đã phát</span><span style="transform:scaleX(1.0450)">minh CYAN LED có</span><span style="transform:scaleX(1.1222)">phổ phát xạ trùng</span><span style="transform:scaleX(1.0838)">khớp với vùng ánh</span><span style="transform:scaleX(1.0890)">ánh sinh học của</span><span style="transform:scaleX(1.0972)">mắt người, tạo nên</span><span style="transform:scaleX(1.0960)">một bước đột phá</span><span style="transform:scaleX(1.0964)">trong công nghệ</span><span style="transform:scaleX(1.1020)">chiếu sáng vì sức</span><span style="transform:scaleX(1.0806)">khỏe con người.</span></div>
</body></html>
